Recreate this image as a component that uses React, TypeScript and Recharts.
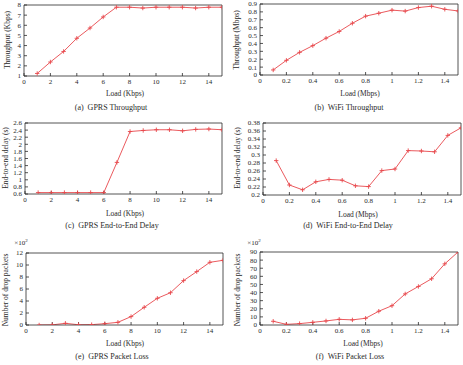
import { LineChart, Line, XAxis, YAxis } from 'recharts'

const W = 463
const H = 365
const RED = '#e8474c'
const INK = '#2a2a2a'
const FONT = '"Liberation Serif", "Times New Roman", serif'

// x values
const gprsLoad = [1, 2, 3, 4, 5, 6, 7, 8, 9, 10, 11, 12, 13, 14, 15]
const wifiLoad = [0.1, 0.2, 0.3, 0.4, 0.5, 0.6, 0.7, 0.8, 0.9, 1.0, 1.1, 1.2, 1.3, 1.4, 1.5]

// series
const gprsThroughput = [1.25, 2.38, 3.42, 4.72, 5.73, 6.82, 7.78, 7.78, 7.7, 7.78, 7.78, 7.78, 7.7, 7.78, 7.78]
const wifiThroughput = [0.064, 0.186, 0.287, 0.372, 0.467, 0.552, 0.656, 0.746, 0.783, 0.822, 0.81, 0.855, 0.872, 0.833, 0.812]
const gprsDelay = [0.64, 0.64, 0.64, 0.64, 0.64, 0.64, 1.49, 2.36, 2.39, 2.41, 2.41, 2.38, 2.42, 2.43, 2.41]
const wifiDelay = [0.286, 0.225, 0.213, 0.233, 0.239, 0.237, 0.223, 0.221, 0.261, 0.265, 0.311, 0.31, 0.308, 0.349, 0.368]
const gprsLoss = [0, 0.02, 0.28, 0.04, 0.06, 0.22, 0.45, 1.4, 2.95, 4.45, 5.38, 7.4, 8.9, 10.45, 10.78]
const wifiLoss = [4.6, 0.8, 1.7, 3.3, 5, 7, 6.3, 8.3, 17, 23.8, 38.3, 47.5, 57, 75.4, 90]

// ticks
const gprsXTicks = [0, 2, 4, 6, 8, 10, 12, 14]
const wifiXTicks = [0, 0.2, 0.4, 0.6, 0.8, 1, 1.2, 1.4]
const gprsThroughputTicks = [1, 2, 3, 4, 5, 6, 7, 8]
const wifiThroughputTicks = [0, 0.1, 0.2, 0.3, 0.4, 0.5, 0.6, 0.7, 0.8, 0.9]
const gprsDelayTicks = [0.6, 0.8, 1, 1.2, 1.4, 1.6, 1.8, 2, 2.2, 2.4, 2.6]
const wifiDelayTicks = [0.2, 0.22, 0.24, 0.26, 0.28, 0.3, 0.32, 0.34, 0.36, 0.38]
const gprsLossTicks = [0, 2, 4, 6, 8, 10, 12]
const wifiLossTicks = [0, 10, 20, 30, 40, 50, 60, 70, 80, 90]

function Plus(props: any) {
  const { cx, cy } = props
  if (cx == null || cy == null) return <g />
  return (
    <path
      d={`M${cx - 2.2},${cy}H${cx + 2.2}M${cx},${cy - 2.2}V${cy + 2.2}`}
      stroke={RED}
      strokeWidth={0.9}
      fill="none"
    />
  )
}

interface PanelProps {
  load: number[]
  values: number[]
  box: [number, number, number, number]
  xDomain: [number, number]
  xTicks: number[]
  yDomain: [number, number]
  yTicks: number[]
}

function Panel({ load, values, box, xDomain, xTicks, yDomain, yTicks }: PanelProps) {
  const data = load.map((x, i) => ({ x, y: values[i] }))
  const [x0, y0, x1, y1] = box
  const tickStyle = { fontSize: 7, fill: INK, fontFamily: FONT }
  // axes are 1px thick boxes, so margins are one pixel short of the plot edges
  return (
    <div style={{ position: 'absolute', left: 0, top: 0 }}>
      <LineChart width={W} height={H} data={data}
        margin={{ left: x0 - 1, top: y0 - 1, right: W - x1 - 1, bottom: H - y1 - 1 }}>
        <XAxis xAxisId="b" dataKey="x" type="number" domain={xDomain} ticks={xTicks} interval={0}
          height={1} tickSize={-3} tickMargin={6} tick={tickStyle} stroke={INK} strokeWidth={0.8} allowDataOverflow />
        <XAxis xAxisId="t" orientation="top" dataKey="x" type="number" domain={xDomain} ticks={xTicks} interval={0}
          height={1} tickSize={-3} tick={false} stroke={INK} strokeWidth={0.8} allowDataOverflow />
        <YAxis yAxisId="l" type="number" domain={yDomain} ticks={yTicks} interval={0}
          width={1} tickSize={-3} tickMargin={6} tick={tickStyle} stroke={INK} strokeWidth={0.8} allowDataOverflow />
        <YAxis yAxisId="r" orientation="right" type="number" domain={yDomain} ticks={yTicks} interval={0}
          width={1} tickSize={-3} tick={false} stroke={INK} strokeWidth={0.8} allowDataOverflow />
        <Line xAxisId="b" yAxisId="l" dataKey="y" stroke={RED} strokeWidth={0.9} dot={Plus}
          activeDot={false} isAnimationActive={false} />
      </LineChart>
    </div>
  )
}

function Txt({ x, y, size, rotate, children }: { x: number; y: number; size: number; rotate?: boolean; children: any }) {
  return (
    <div style={{
      position: 'absolute', left: x, top: y, fontFamily: FONT, fontSize: size, color: INK,
      whiteSpace: 'nowrap', lineHeight: 1,
      transform: `translate(-50%, -50%)${rotate ? ' rotate(-90deg)' : ''}`,
    }}>{children}</div>
  )
}

export default function App() {
  return (
    <div style={{ position: 'absolute', left: 0, top: 0, width: W, height: H, background: '#fff', overflow: 'hidden' }}>
      <Panel load={gprsLoad} values={gprsThroughput} box={[24, 5, 222, 76]} xDomain={[0, 15]} xTicks={gprsXTicks} yDomain={[1, 8]} yTicks={gprsThroughputTicks} />
      <Panel load={wifiLoad} values={wifiThroughput} box={[260, 4, 458, 75]} xDomain={[0, 1.5]} xTicks={wifiXTicks} yDomain={[0, 0.9]} yTicks={wifiThroughputTicks} />
      <Panel load={gprsLoad} values={gprsDelay} box={[25, 123, 222, 194]} xDomain={[0, 15]} xTicks={gprsXTicks} yDomain={[0.6, 2.6]} yTicks={gprsDelayTicks} />
      <Panel load={wifiLoad} values={wifiDelay} box={[263, 123, 461, 195]} xDomain={[0, 1.5]} xTicks={wifiXTicks} yDomain={[0.2, 0.38]} yTicks={wifiDelayTicks} />
      <Panel load={gprsLoad} values={gprsLoss} box={[26, 253, 223, 325]} xDomain={[0, 15]} xTicks={gprsXTicks} yDomain={[0, 12]} yTicks={gprsLossTicks} />
      <Panel load={wifiLoad} values={wifiLoss} box={[260, 252, 458, 325]} xDomain={[0, 1.5]} xTicks={wifiXTicks} yDomain={[0, 90]} yTicks={wifiLossTicks} />

      <Txt x={8} y={40} size={7.5} rotate>Throughput (Kbps)</Txt>
      <Txt x={237} y={40} size={7.5} rotate>Throughput (Mbps)</Txt>
      <Txt x={5.5} y={158} size={7.5} rotate>End-to-end delay (s)</Txt>
      <Txt x={238} y={158} size={7.5} rotate>End-to-end delay (s)</Txt>
      <Txt x={6} y={290} size={7.5} rotate>Number of drop packets</Txt>
      <Txt x={238} y={290} size={7.5} rotate>Number of drop packets</Txt>

      <Txt x={125} y={94} size={7.5}>Load (Kbps)</Txt>
      <Txt x={360} y={94} size={7.5}>Load (Mbps)</Txt>
      <Txt x={125} y={214} size={7.5}>Load (Kbps)</Txt>
      <Txt x={358} y={215} size={7.5}>Load (Mbps)</Txt>
      <Txt x={125} y={344} size={7.5}>Load (Kbps)</Txt>
      <Txt x={363} y={344} size={7.5}>Load (Mbps)</Txt>

      <Txt x={111} y={108} size={8}>(a)&nbsp; GPRS Throughput</Txt>
      <Txt x={349} y={108} size={8}>(b)&nbsp; WiFi Throughput</Txt>
      <Txt x={112} y={226} size={8}>(c)&nbsp; GPRS End-to-End Delay</Txt>
      <Txt x={348} y={226} size={8}>(d)&nbsp; WiFi End-to-End Delay</Txt>
      <Txt x={112} y={357} size={8}>(e)&nbsp; GPRS Packet Loss</Txt>
      <Txt x={350} y={357} size={8}>(f)&nbsp; WiFi Packet Loss</Txt>

      <Txt x={21} y={243} size={7}><span>×10<sup style={{ fontSize: 5 }}>2</sup></span></Txt>
      <Txt x={254} y={243} size={7}><span>×10<sup style={{ fontSize: 5 }}>2</sup></span></Txt>
    </div>
  )
}
